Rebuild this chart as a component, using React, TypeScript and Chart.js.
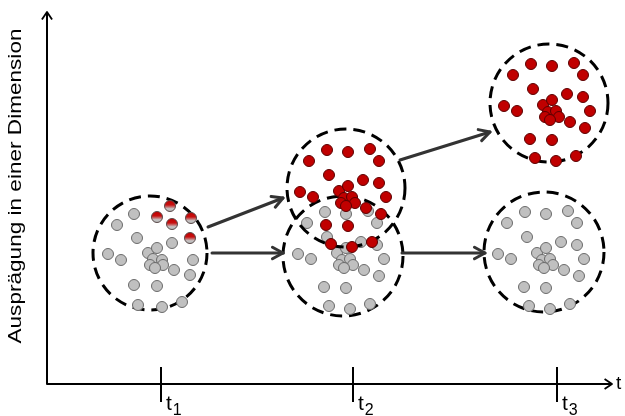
import { useEffect, useRef } from "react";
import { Chart, registerables } from "chart.js";

Chart.register(...registerables);

// ---- data (x: time axis units, y: "Ausprägung" units) ----
const t1Gray = [
  [87, 170], [70, 159], [90, 146], [125, 141], [61, 130], [74, 124],
  [101, 131], [110, 136], [106, 125], [115, 124], [103, 119], [116, 119],
  [108, 116], [146, 124], [127, 114], [143, 109], [87, 99], [110, 98],
  [91, 79], [115, 77], [135, 82],
];
const t1Moving = [
  [110, 167], [123, 178], [144, 166], [125, 160], [143, 146],
];
const t2Gray = [
  [278, 172], [299, 170], [321, 173], [260, 161], [330, 161], [280, 147],
  [314, 142], [330, 139], [251, 130], [264, 125], [290, 131], [299, 136],
  [295, 124], [303, 125], [292, 119], [306, 119], [297, 116], [337, 125],
  [317, 114], [332, 108], [277, 97], [299, 96], [282, 78], [303, 75], [323, 80],
];
const t2Red = [
  [280, 234], [301, 232], [323, 235], [262, 223], [332, 223], [282, 209],
  [316, 204], [332, 201], [253, 192], [266, 187], [292, 193], [301, 198],
  [297, 186], [305, 187], [294, 181], [308, 181], [299, 178], [339, 187],
  [319, 176], [334, 170], [279, 159], [301, 158], [284, 140], [305, 137], [325, 142],
];
const t3Red = [
  [484, 320], [505, 318], [527, 321], [466, 309], [536, 309], [486, 295],
  [520, 290], [536, 287], [457, 278], [470, 273], [496, 279], [505, 284],
  [501, 272], [509, 273], [498, 267], [512, 267], [503, 264], [543, 273],
  [523, 262], [538, 256], [483, 245], [505, 244], [488, 226], [509, 223], [529, 228],
];
const t3Gray = [
  [478, 172], [499, 170], [521, 173], [460, 161], [530, 161], [480, 147],
  [514, 142], [530, 139], [451, 130], [464, 125], [490, 131], [499, 136],
  [495, 124], [503, 125], [492, 119], [506, 119], [497, 116], [537, 125],
  [517, 114], [532, 108], [477, 97], [499, 96], [482, 78], [503, 75], [523, 80],
];

// dashed cluster circles: centre x, centre y, radius
const circleX = [103, 296, 299, 502, 497];
const circleY = [131, 128, 196, 281, 132];
const circleR = [57, 60, 59, 59, 60];

// arrows between clusters: from (x,y) to (x,y)
const arrowFrom = [[161, 157], [165, 131], [353, 224], [355, 131]];
const arrowTo = [[236, 186], [236, 131], [443, 252], [438, 131]];

// time axis
const tickValues = [114, 306, 510];
const tickSubs = ["1", "2", "3"];
const tickBase = "t";
const xAxisLabel = "t";
const yAxisLabel = "Ausprägung in einer Dimension";
const X_MAX = 565;
const Y_MAX = 372;

const FONT = '"Liberation Sans", Arial, sans-serif';
const GRAY_FILL = "#c0c0c0";
const GRAY_BORDER = "#6a6a6a";
const RED_FILL = "#c00000";
const RED_BORDER = "#5a0000";

const toPts = (arr: number[][]) => arr.map(([x, y]) => ({ x, y }));

// dataset index -> circle index (drawn just before the dataset's points)
const datasetCircle = [2, 3, -1, 0, 1, 4];

function drawArrowHead(ctx: CanvasRenderingContext2D, x: number, y: number, ang: number, len: number, spread: number) {
  ctx.beginPath();
  ctx.moveTo(x - len * Math.cos(ang - spread), y - len * Math.sin(ang - spread));
  ctx.lineTo(x, y);
  ctx.lineTo(x - len * Math.cos(ang + spread), y - len * Math.sin(ang + spread));
  ctx.stroke();
}

const diagramPlugin = {
  id: "diagram",
  beforeDatasetDraw(chart: any, args: any) {
    const ci = datasetCircle[args.index];
    if (ci === undefined || ci < 0) return;
    const { ctx } = chart;
    const xs = chart.scales.x;
    const ys = chart.scales.y;
    const cx = xs.getPixelForValue(circleX[ci]);
    const cy = ys.getPixelForValue(circleY[ci]);
    const r = xs.getPixelForValue(circleX[ci] + circleR[ci]) - cx;
    ctx.save();
    ctx.setLineDash([12, 7]);
    ctx.lineWidth = 3;
    ctx.strokeStyle = "#000";
    ctx.beginPath();
    ctx.arc(cx, cy, r, 0, Math.PI * 2);
    ctx.stroke();
    ctx.restore();
  },
  afterDatasetsDraw(chart: any) {
    const { ctx } = chart;
    const xs = chart.scales.x;
    const ys = chart.scales.y;
    ctx.save();
    // cluster arrows
    ctx.strokeStyle = "#333";
    ctx.lineWidth = 3;
    ctx.lineCap = "round";
    ctx.lineJoin = "round";
    arrowFrom.forEach((f, i) => {
      const t = arrowTo[i];
      const x1 = xs.getPixelForValue(f[0]);
      const y1 = ys.getPixelForValue(f[1]);
      const x2 = xs.getPixelForValue(t[0]);
      const y2 = ys.getPixelForValue(t[1]);
      ctx.beginPath();
      ctx.moveTo(x1, y1);
      ctx.lineTo(x2, y2);
      ctx.stroke();
      drawArrowHead(ctx, x2, y2, Math.atan2(y2 - y1, x2 - x1), 12, 0.5);
    });

    // axes
    const ox = xs.getPixelForValue(0);
    const oy = ys.getPixelForValue(0);
    const xe = xs.getPixelForValue(X_MAX);
    const ye = ys.getPixelForValue(Y_MAX);
    ctx.strokeStyle = "#000";
    ctx.lineWidth = 2;
    ctx.lineCap = "butt";
    ctx.beginPath();
    ctx.moveTo(ox, ye);
    ctx.lineTo(ox, oy);
    ctx.lineTo(xe, oy);
    ctx.stroke();
    ctx.lineWidth = 1.8;
    drawArrowHead(ctx, ox, ye, -Math.PI / 2, 9, 0.6);
    drawArrowHead(ctx, xe, oy, 0, 9, 0.6);

    // ticks + labels
    ctx.lineWidth = 2;
    ctx.fillStyle = "#000";
    ctx.textBaseline = "alphabetic";
    ctx.textAlign = "left";
    tickValues.forEach((v, i) => {
      const px = xs.getPixelForValue(v);
      ctx.beginPath();
      ctx.moveTo(px, oy - 17);
      ctx.lineTo(px, oy + 18);
      ctx.stroke();
      ctx.font = `21px ${FONT}`;
      const tx = px + 5;
      ctx.fillText(tickBase, tx, oy + 26);
      const w = ctx.measureText(tickBase).width;
      ctx.font = `16px ${FONT}`;
      ctx.fillText(tickSubs[i], tx + w + 1, oy + 31);
    });
    ctx.font = `19px ${FONT}`;
    ctx.fillText(xAxisLabel, xe + 4, oy + 5);

    // y axis label (rotated)
    ctx.font = `19px ${FONT}`;
    ctx.textAlign = "center";
    ctx.textBaseline = "middle";
    const w = ctx.measureText(yAxisLabel).width;
    ctx.translate(16, 186);
    ctx.rotate(-Math.PI / 2);
    ctx.scale(315 / w, 1);
    ctx.fillText(yAxisLabel, 0, 0);
    ctx.restore();
  },
};

export default function App() {
  const ref = useRef<HTMLCanvasElement | null>(null);
  useEffect(() => {
    if (!ref.current) return;
    const movingFill = (c: any) => {
      const chart = c.chart;
      const raw = c.raw;
      const ys = chart && chart.scales ? chart.scales.y : undefined;
      if (!raw || !ys) return RED_FILL;
      const py = ys.getPixelForValue(raw.y);
      if (!Number.isFinite(py)) return RED_FILL;
      const g = chart.ctx.createLinearGradient(0, py - 5.5, 0, py + 5.5);
      g.addColorStop(0, "#c00000");
      g.addColorStop(0.4, "#c81010");
      g.addColorStop(0.75, "#c4c4c4");
      g.addColorStop(1, "#b4b4b4");
      return g;
    };
    const base = { pointRadius: 5.5, pointBorderWidth: 1, showLine: false };
    const chart = new Chart(ref.current, {
      type: "scatter",
      data: {
        datasets: [
          { ...base, label: "t2 rot", data: toPts(t2Red), backgroundColor: RED_FILL, borderColor: RED_BORDER },
          { ...base, label: "t3 rot", data: toPts(t3Red), backgroundColor: RED_FILL, borderColor: RED_BORDER },
          { ...base, label: "t1 wechselnd", data: toPts(t1Moving), backgroundColor: movingFill, borderColor: "#5a4a4a" },
          { ...base, label: "t1 grau", data: toPts(t1Gray), backgroundColor: GRAY_FILL, borderColor: GRAY_BORDER },
          { ...base, label: "t2 grau", data: toPts(t2Gray), backgroundColor: GRAY_FILL, borderColor: GRAY_BORDER },
          { ...base, label: "t3 grau", data: toPts(t3Gray), backgroundColor: GRAY_FILL, borderColor: GRAY_BORDER },
        ] as any,
      },
      options: {
        animation: false,
        responsive: false,
        maintainAspectRatio: false,
        events: [],
        layout: { padding: { left: 47, right: 13, top: 12, bottom: 32 } },
        scales: {
          x: { type: "linear", min: 0, max: X_MAX, display: false },
          y: { type: "linear", min: 0, max: Y_MAX, display: false },
        },
        plugins: { legend: { display: false }, tooltip: { enabled: false } },
      },
      plugins: [diagramPlugin as any],
    });
    return () => chart.destroy();
  }, []);
  return (
    <div style={{ position: "fixed", left: 0, top: 0, width: 625, height: 416, background: "#fff" }}>
      <canvas ref={ref} width={625} height={416} style={{ width: 625, height: 416, display: "block" }} />
    </div>
  );
}
